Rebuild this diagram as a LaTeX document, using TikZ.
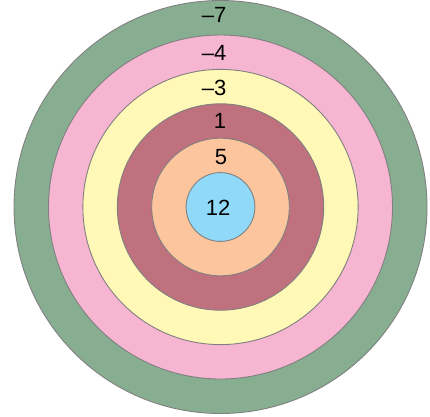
\documentclass[tikz,border=0pt]{standalone}
\usepackage{fontspec}
\setmainfont{Liberation Sans}
\definecolor{ringA}{HTML}{88AE91}
\definecolor{ringB}{HTML}{F6B5D1}
\definecolor{ringC}{HTML}{FFF8B6}
\definecolor{ringD}{HTML}{BF717E}
\definecolor{ringE}{HTML}{FDC59E}
\definecolor{ringF}{HTML}{91D9F8}
\definecolor{edgegray}{HTML}{808080}
\tikzset{
  ring/.style={draw=edgegray, line width=0.9pt},
  lbl/.style={inner sep=0pt, font=\fontsize{22}{26}\selectfont, text=black}
}
\begin{document}
\begin{tikzpicture}[x=1pt,y=-1pt]
\useasboundingbox (0,0) rectangle (430,416);
\coordinate (c) at (220.5,207);
\fill[white] (0,0) rectangle (430,416);
\draw[ring, fill=ringA] (c) circle[radius=206.5];
\draw[ring, fill=ringB] (c) circle[radius=172];
\draw[ring, fill=ringC] (c) circle[radius=137.6];
\draw[ring, fill=ringD] (c) circle[radius=103.2];
\draw[ring, fill=ringE] (c) circle[radius=68.8];
\draw[ring, fill=ringF] (c) circle[radius=34.4];
\node[lbl] (l7) at (214,15) {–7};
\node[lbl] (l4) at (214,53) {–4};
\node[lbl] (l3) at (214,88) {–3};
\node[lbl] (l1) at (220,121) {1};
\node[lbl] (l5) at (221,157.5) {5};
\node[lbl] (l12) at (218,208) {12};
\end{tikzpicture}
\end{document}
